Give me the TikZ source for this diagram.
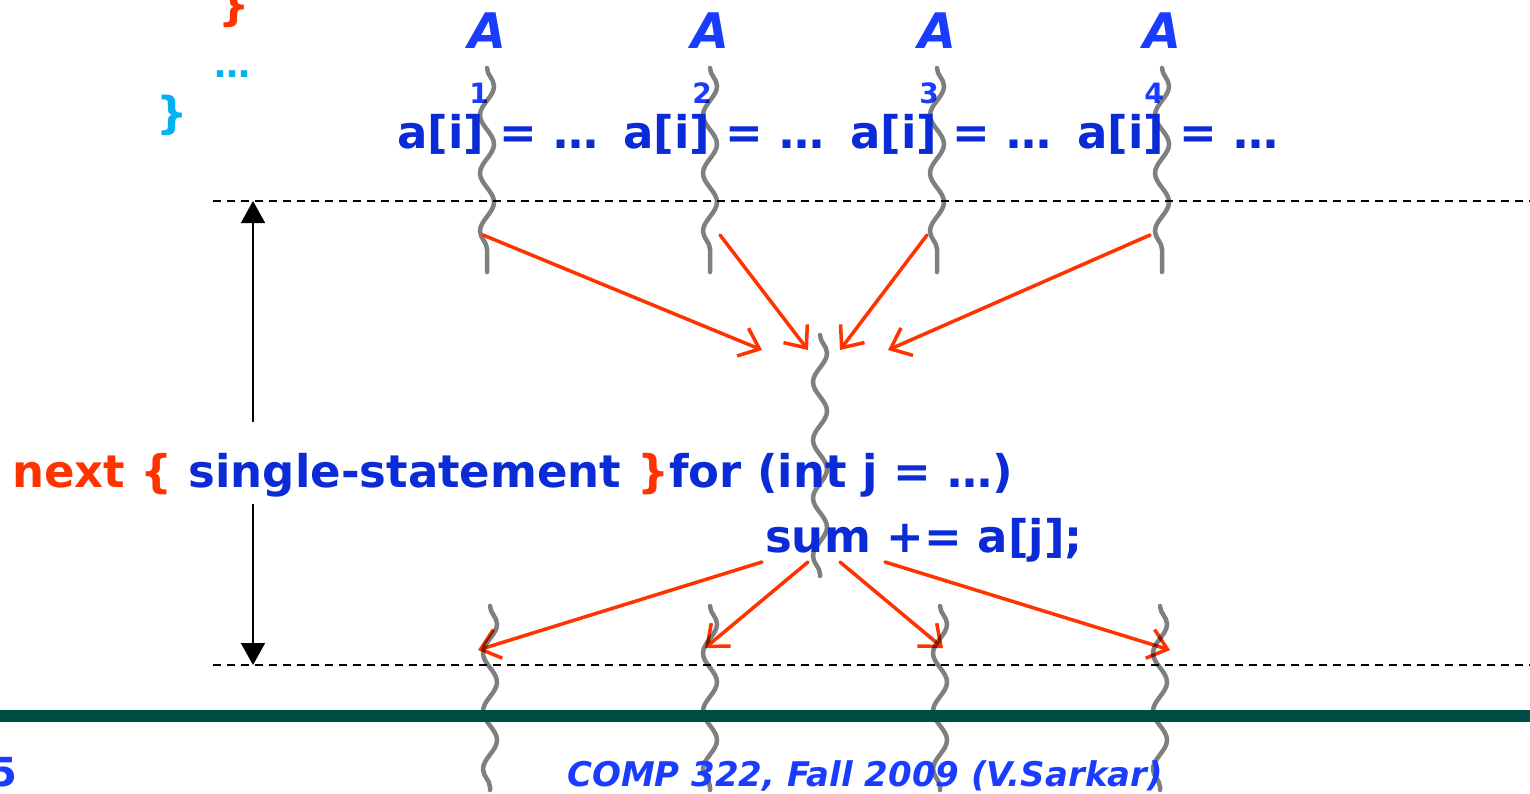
\documentclass[tikz,border=0pt]{standalone}
\usepackage{fontspec}
\setmainfont{DejaVu Sans}
\usetikzlibrary{arrows.meta,decorations.pathmorphing,positioning}
\definecolor{codeblue}{HTML}{0A2BD6}
\definecolor{brightblue}{HTML}{1A3CFF}
\definecolor{hotred}{HTML}{FF3300}
\definecolor{skyblue}{HTML}{00B2EE}
\definecolor{bargreen}{HTML}{004D46}

\begin{document}
\begin{tikzpicture}[x=1pt,y=-1pt,
		code/.style={text=codeblue, font=\fontsize{45}{50}\selectfont\bfseries, inner sep=0pt, anchor=base west},
		tlabel/.style={text=brightblue, font=\fontsize{49}{56}\selectfont\bfseries\itshape, inner sep=0pt, anchor=base},
		tsub/.style={text=brightblue, font=\fontsize{28}{32}\selectfont\bfseries, inner sep=0pt, anchor=base},
		thread/.style={draw=black, draw opacity=0.5, line width=4.5pt, line cap=round,
			decorate, decoration={snake, segment length=58pt, amplitude=7pt}},
		sync/.style={draw=hotred, line width=3.5pt, line cap=round,
			-{Straight Barb[length=18pt,width=30pt,line width=3.5pt]}},
		span/.style={draw=black, line width=1.6pt, -{Triangle[length=22pt,width=24pt]}},
		barrier/.style={draw=black, line width=1.5pt, dash pattern=on 8pt off 6pt},
		]
		\useasboundingbox (0,0) rectangle (1530,793);
		
		% what is left of the code above
		\node[text=hotred, font=\fontsize{44}{50}\selectfont\bfseries, inner sep=0pt, anchor=base] (rb) at (234,20) {\}};
		\node[text=skyblue, font=\fontsize{36}{40}\selectfont\bfseries, inner sep=0pt, anchor=base] (dots) at (232,77) {…};
		\node[text=skyblue, font=\fontsize{44}{50}\selectfont\bfseries, inner sep=0pt, anchor=base] (cb) at (172,128) {\}};
		
		% the four threads before the barrier
		\foreach \x/\n in {487/1,710/2,937/3,1162/4}{
			\node[tlabel] (A\n) at (\x,48) {A};
			\node[tsub] (s\n) at (\x-8,103) {\n};
			\draw[thread] (\x,68) -- (\x,272);
		}
		\foreach \x/\n in {397/1,623/2,850/3,1077/4}
			\node[code] (w\n) at (\x,148) {a[i] = …};
		
		% the barrier lines
		\coordinate (ltop) at (213,201);
		\coordinate (rtop) at (1530,201);
		\coordinate (lbot) at (213,665);
		\coordinate (rbot) at (1530,665);
		\draw[barrier] (ltop) -- (rtop);
		\draw[barrier] (lbot) -- (rbot);
		
		% the single thread in between
		\draw[thread] (820,335) -- (820,576);
		\node[code] (nx) at (12,487) {\textcolor{hotred}{next \{} single-statement \textcolor{hotred}{\}}for (int j = …)};
		\node[code] (sm) at (765,552) {sum += a[j];};
		
		% extent of the barrier
		\coordinate (up) at (253,201);
		\coordinate (dn) at (253,665);
		\coordinate (u0) at (253,422);
		\coordinate (d0) at (253,504);
		\draw[span] (u0) -- (up);
		\draw[span] (d0) -- (dn);
		
		% joins into the single thread
		\coordinate (f1) at (483,235);
		\coordinate (f2) at (720,235);
		\coordinate (f3) at (927,235);
		\coordinate (f4) at (1150,235);
		\coordinate (j1) at (762,350);
		\coordinate (j2) at (808,350);
		\coordinate (j3) at (840,350);
		\coordinate (j4) at (888,350);
		\foreach \n in {1,...,4}
			\draw[sync] (f\n) -- (j\n);
		
		% forks back out
		\coordinate (g1) at (762,562);
		\coordinate (g2) at (808,562);
		\coordinate (g3) at (840,562);
		\coordinate (g4) at (885,562);
		\coordinate (h1) at (478,650);
		\coordinate (h2) at (705,648);
		\coordinate (h3) at (943,648);
		\coordinate (h4) at (1170,650);
		\foreach \n in {1,...,4}
			\draw[sync] (g\n) -- (h\n);
		
		% the four threads after the barrier
		\foreach \x/\n in {490/1,710/2,940/3,1160/4}
			\draw[thread] (\x,606) -- (\x,790);
		
		% footer
		\fill[bargreen] (0,710) rectangle (1530,722);
		\node[text=brightblue, font=\fontsize{40}{44}\selectfont\bfseries, inner sep=0pt, anchor=base east] (pg) at (18,786) {5};
		\node[text=brightblue, font=\fontsize{34}{40}\selectfont\bfseries\itshape, inner sep=0pt, anchor=base west] (ft) at (567,786) {COMP 322, Fall 2009 (V.Sarkar)};
	\end{tikzpicture}
\end{document}
